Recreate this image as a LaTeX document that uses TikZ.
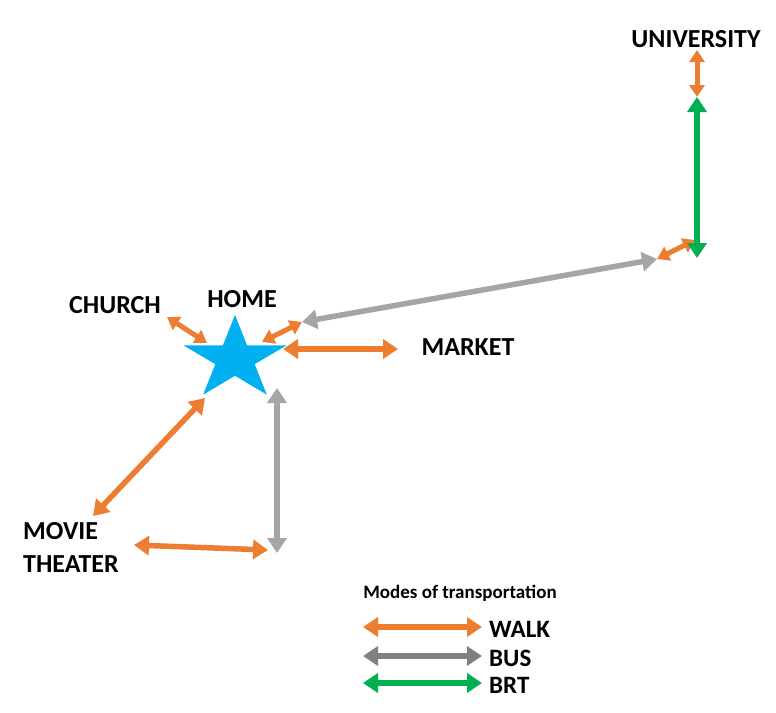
\documentclass[tikz,border=0pt]{standalone}
\usepackage{fontspec}
\setmainfont{Carlito}
\usetikzlibrary{arrows.meta,shapes.geometric}

\definecolor{walkorange}{RGB}{237,125,49}
\definecolor{busgray}{RGB}{165,165,165}
\definecolor{keygray}{RGB}{128,128,128}
\definecolor{brtgreen}{RGB}{0,176,80}
\definecolor{starblue}{RGB}{0,176,240}

\tikzset{
  place/.style={font=\bfseries\fontsize{26}{33}\selectfont, inner sep=0pt, anchor=base},
  keytext/.style={font=\bfseries\fontsize{25}{28}\selectfont, inner sep=0pt, anchor=base west},
  twoway/.style={{Triangle[length=15pt,width=19pt]}-{Triangle[length=15pt,width=19pt]}, line width=5.5pt},
  smallhead/.style={{Triangle[length=12pt,width=15pt]}-{Triangle[length=12pt,width=15pt]}, line width=5pt},
  walkarrow/.style={twoway, draw=walkorange},
  busarrow/.style={twoway, draw=busgray},
  brtarrow/.style={twoway, draw=brtgreen}
}

\begin{document}
\begin{tikzpicture}[x=1pt,y=-1pt]
  \useasboundingbox (0,0) rectangle (776,712);
  % places
  \node[star, star points=5, star point ratio=2.618, fill=starblue, inner sep=0pt,
        minimum size=88pt, xscale=1.23] (home) at (235,359) {};
  \node[place] (hometext) at (242,307) {HOME};
  \node[place] (church) at (115,313) {CHURCH};
  \node[place] (market) at (468,355) {MARKET};
  \node[place] (university) at (696,47) {UNIVERSITY};
  \node[place, anchor=north west, align=left] (movie) at (23,522) {MOVIE\\THEATER};
  % arrow ends
  \foreach \x/\y/\n in {167/317/chA, 207/343/chB, 262/342/neA, 302/322/neB,
      657/259/stopA, 695/240/stopB, 697/258/brtA, 697/97/brtB, 697/50/uniA,
      283/349/mkA, 398/349/mkB, 205/398/mvA, 93/516/mvB,
      277/388/vtA, 277/553/vtB, 134/545/hzA, 268/550/hzB}
    \coordinate (\n) at (\x,\y);
  \draw[smallhead, draw=walkorange] (chA) -- (chB);
  \draw[smallhead, draw=walkorange] (neA) -- (neB);
  \draw[busarrow] (neB) -- (stopA);
  \draw[smallhead, draw=walkorange] (stopA) -- (stopB);
  \draw[brtarrow] (brtA) -- (brtB);
  \draw[smallhead, draw=walkorange] (brtB) -- (uniA);
  \draw[walkarrow] (mkA) -- (mkB);
  \draw[walkarrow] (mvA) -- (mvB);
  \draw[busarrow] (vtA) -- (vtB);
  \draw[walkarrow] (hzA) -- (hzB);
  % legend
  \node[font=\bfseries\fontsize{19}{22}\selectfont, inner sep=0pt, anchor=base] (keytitle)
    at (460,598) {Modes of transportation};
  \foreach \y/\n/\c/\t in {627/walk/walkorange/WALK, 656/bus/keygray/BUS, 683/brt/brtgreen/BRT}{
    \coordinate (\n A) at (363,\y);
    \coordinate (\n B) at (482,\y);
    \draw[twoway, draw=\c] (\n A) -- (\n B);
    \node[keytext] (\n text) at (489,\y+10) {\t};
  }
\end{tikzpicture}
\end{document}
